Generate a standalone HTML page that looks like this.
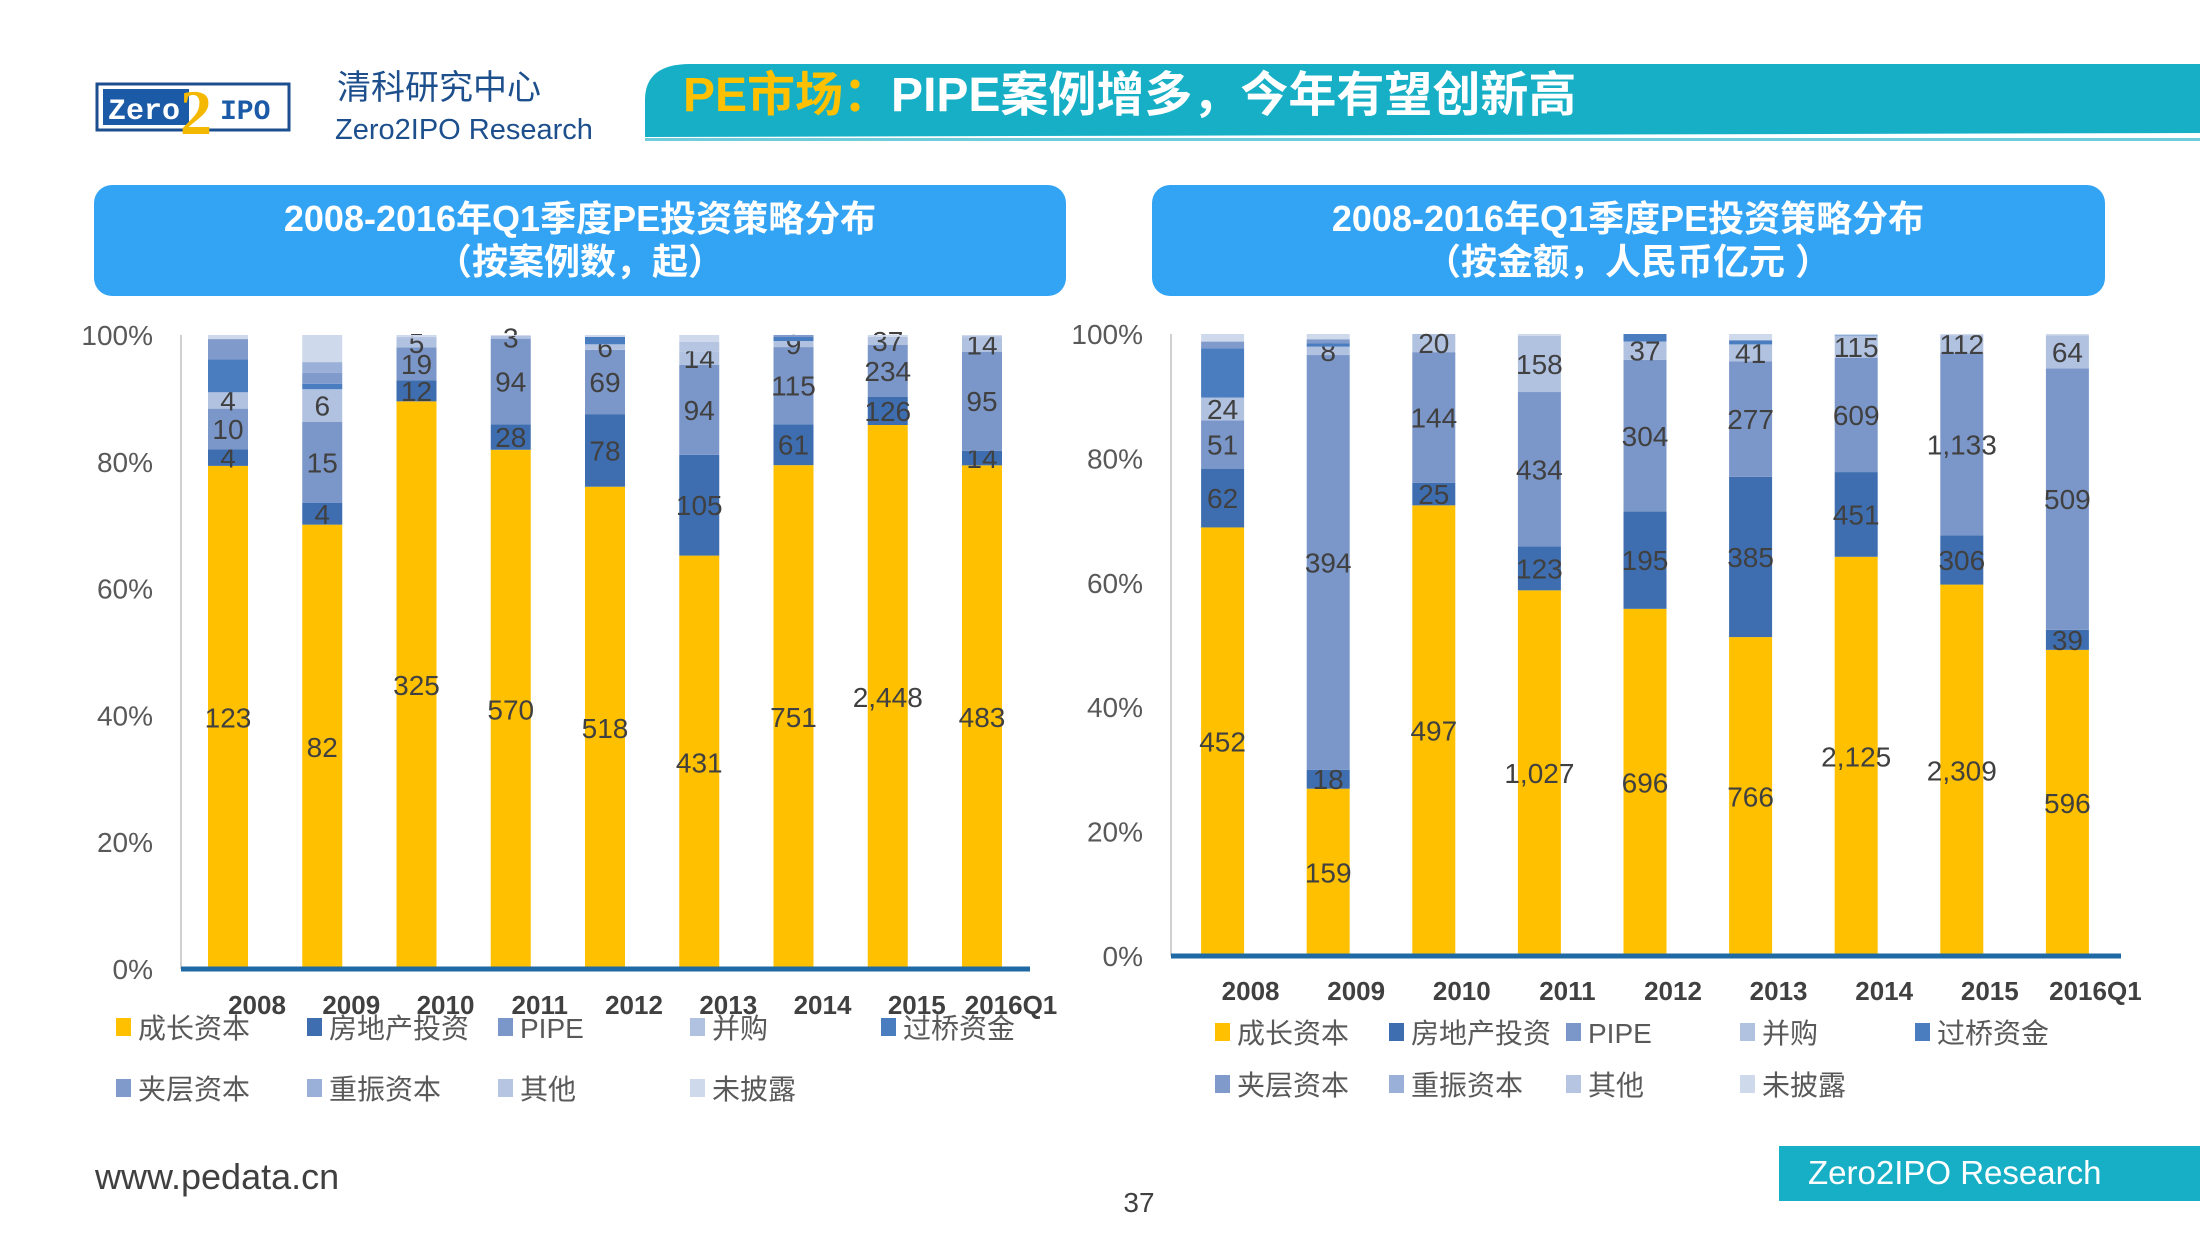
<!DOCTYPE html>
<html><head><meta charset="utf-8">
<style>
body{margin:0;width:2200px;height:1238px;overflow:hidden;background:#fff;font-family:"Liberation Sans","Noto Sans CJK SC",sans-serif;}
svg{position:absolute;left:0;top:0}
</style></head>
<body>
<svg id="svg" width="2200" height="1238" viewBox="0 0 2200 1238">
  <g>
    <rect x="97" y="84" width="192" height="46" fill="#fff" stroke="#1c4f8f" stroke-width="3"/>
    <rect x="103" y="89" width="86" height="36" fill="#1a5aa6"/>
    <text x="108" y="119" font-size="30" font-weight="bold" fill="#fff" font-family="Liberation Mono,monospace">Zero</text>
    <text x="180" y="134" font-size="64" font-weight="bold" fill="#f5b800" font-family="Liberation Serif,serif">2</text>
    <text x="220" y="119" font-size="28" font-weight="bold" fill="#1a5aa6" font-family="Liberation Mono,monospace">IPO</text>
  </g>
  <text x="337" y="99" font-size="34" fill="#1d4f8c">清科研究中心</text>
  <text x="335" y="139" font-size="29" fill="#1d4f8c">Zero2IPO Research</text>
  <path d="M645 137 L645 100 Q645 64 690 64 L2200 64 L2200 133 Z" fill="#17afc6"/>
  <rect x="645" y="138" width="1555" height="3" fill="#6fcddb"/>
  <text x="683" y="111" font-size="48" font-weight="bold"><tspan fill="#ffc000">PE市场：</tspan><tspan fill="#fff">PIPE案例增多，今年有望创新高</tspan></text>

  <rect x="94" y="185" width="972" height="111" rx="18" fill="#33a3f4"/>
  <text x="580" y="231" font-size="36" font-weight="bold" fill="#fff" text-anchor="middle">2008-2016年Q1季度PE投资策略分布</text>
  <text x="580" y="274" font-size="36" font-weight="bold" fill="#fff" text-anchor="middle">（按案例数，起）</text>
  <rect x="1152" y="185" width="953" height="111" rx="18" fill="#33a3f4"/>
  <text x="1628" y="231" font-size="36" font-weight="bold" fill="#fff" text-anchor="middle">2008-2016年Q1季度PE投资策略分布</text>
  <text x="1628" y="274" font-size="36" font-weight="bold" fill="#fff" text-anchor="middle">（按金额，人民币亿元 ）</text>

  <g id="c1"></g>
  <g id="c2"></g>

  <text x="95" y="1189" font-size="36" fill="#404040">www.pedata.cn</text>
  <text x="1139" y="1212" font-size="28" fill="#404040" text-anchor="middle">37</text>
  <rect x="1779" y="1146" width="421" height="55" fill="#17afc6"/>
  <text x="1808" y="1184" font-size="33" fill="#fff">Zero2IPO Research</text>
</svg>
<script>
const categories = ["2008","2009","2010","2011","2012","2013","2014","2015","2016Q1"];
const seriesNames = ["成长资本","房地产投资","PIPE","并购","过桥资金","夹层资本","重振资本","其他","未披露"];
const tickLabels = ["0%","20%","40%","60%","80%","100%"];
const tickValues = [0,20,40,60,80,100];
// Chart 1: deal counts
const c1Growth    = [123,82,325,570,518,431,751,2448,483];
const c1RealEst   = [4,4,12,28,78,105,61,126,14];
const c1Pipe      = [10,15,19,94,69,94,115,234,95];
const c1MA        = [4,6,5,3,6,14,9,37,14];
const c1Bridge    = [8,1,0,0,8,0,6,0,0];
const c1Mezz      = [5,2,0,0,0,0,3,0,0];
const c1Restruct  = [0,2,0,0,0,0,0,0,0];
const c1Other     = [0,0,1,0,0,10,0,0,1];
const c1Undisc    = [1,5,1,1,2,7,0,8,1];
// Chart 2: amounts
const c2Growth    = [452,159,497,1027,696,766,2125,2309,596];
const c2RealEst   = [62,18,25,123,195,385,451,306,39];
const c2Pipe      = [51,394,144,434,304,277,609,1133,509];
const c2MA        = [24,8,20,158,37,41,115,112,64];
const c2Bridge    = [52,3,0,0,15,10,3,0,0];
const c2Mezz      = [7,4,0,0,0,0,0,0,0];
const c2Restruct  = [0,0,0,0,0,0,0,0,0];
const c2Other     = [0,0,0,0,0,0,0,0,0];
const c2Undisc    = [8,5,0,5,0,15,8,7,3];

const colors = ["#ffc000","#3e6eb0","#7b97c9","#b1c2e1","#4a7cc0","#7f9acb","#9ab0d8","#b6c5e2","#cfd9ec"];
const NS="http://www.w3.org/2000/svg";
function mk(tag, attrs, parent){const e=document.createElementNS(NS,tag);for(const k in attrs)e.setAttribute(k,attrs[k]);parent.appendChild(e);return e;}

function draw(g, series, o){
  const y=v=>o.y0-(o.y0-o.y100)*v/100;
  const x=i=>o.x0+o.step*i;
  mk("line",{x1:o.ax0,x2:o.ax0,y1:o.y100,y2:o.y0,stroke:"#d0d0d0","stroke-width":2},g);
  tickValues.forEach((t,i)=>{
    const tx=mk("text",{x:o.tickX,y:y(t)+10,"font-size":28,fill:"#595959","text-anchor":"end"},g);
    
    
    tx.textContent=tickLabels[i];
  });
  categories.forEach((c,i)=>{
    let total=0; series.forEach(s=>total+=s[i]);
    let cum=0;
    series.forEach((s,k)=>{
      const v=s[i]; if(!v) return;
      const p0=cum/total*100, p1=(cum+v)/total*100; cum+=v;
      const r=mk("rect",{x:x(i)-o.bw/2,y:y(p1),width:o.bw,height:y(p0)-y(p1),fill:colors[k]},g);
      
      
      if(k<4){
        const ly=y((p0+p1)/2);
        const lt=mk("text",{x:x(i),y:ly+10,"font-size":28,fill:"#404040","text-anchor":"middle"},g);
        
        
        lt.textContent=v.toLocaleString('en-US');
      }
    });
    const xl=mk("text",{x:x(i)+o.catOff,y:o.catY,"font-size":26,"font-weight":"bold",fill:"#404040","text-anchor":"middle"},g);
    
    
    xl.textContent=c;
  });
  mk("line",{x1:o.ax0,x2:o.ax1,y1:o.y0,y2:o.y0,stroke:"#1f6aa5","stroke-width":5},g);
  seriesNames.forEach((n,k)=>{
    const row=k<5?0:1, col=k<5?k:k-5;
    const lx=o.legX[col], ly=o.legY[row];
    const sw=mk("rect",{x:lx,y:ly-20,width:15,height:18,fill:colors[k]},g);
    
    
    const t=mk("text",{x:lx+22,y:ly,"font-size":28,fill:"#595959"},g);
    
    
    t.textContent=n;
  });
}
draw(document.getElementById('c1'),
  [c1Growth,c1RealEst,c1Pipe,c1MA,c1Bridge,c1Mezz,c1Restruct,c1Other,c1Undisc],
  {x0:228,step:94.25,bw:40,y0:969,y100:335,ax0:181,ax1:1030,tickX:153,catY:1014,catOff:29,
   legX:[116,307,498,690,881],legY:[1038,1099]});
draw(document.getElementById('c2'),
  [c2Growth,c2RealEst,c2Pipe,c2MA,c2Bridge,c2Mezz,c2Restruct,c2Other,c2Undisc],
  {x0:1222.6,step:105.6,bw:43,y0:956,y100:334,ax0:1171,ax1:2121,tickX:1143,catY:1000,catOff:28,
   legX:[1215,1389,1566,1740,1915],legY:[1043,1095]});
</script>
</body></html>
